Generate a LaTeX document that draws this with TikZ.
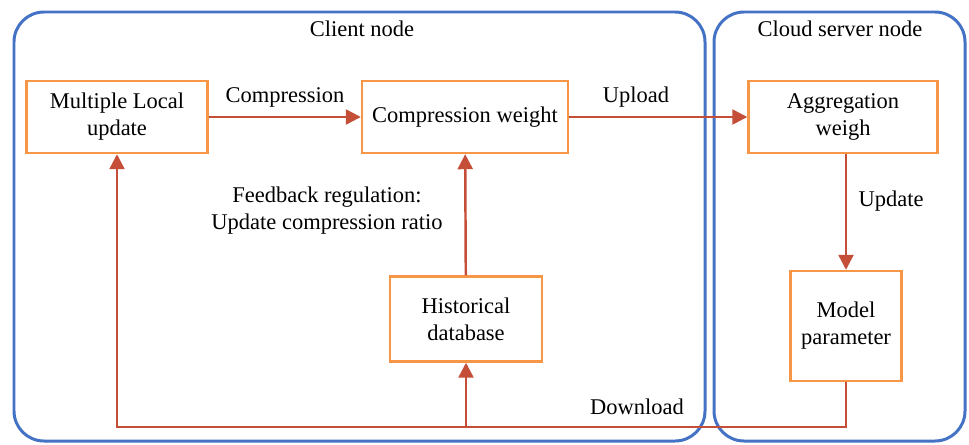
\documentclass[tikz,border=0pt]{standalone}
\usepackage{fontspec}
\setmainfont{Liberation Serif}
\usetikzlibrary{arrows.meta}
\definecolor{frameblue}{RGB}{68,114,196}
\definecolor{boxorange}{RGB}{247,150,70}
\definecolor{linkred}{RGB}{196,78,56}

\begin{document}
\begin{tikzpicture}[x=0.02cm, y=-0.02cm,
  font=\fontsize{12.8}{15.3}\selectfont,
  frame/.style={draw=frameblue, line width=1.7pt, rounded corners=0.6cm},
  stepbox/.style={draw=boxorange, line width=1.4pt, align=center, inner sep=2pt},
  link/.style={draw=linkred, line width=1.4pt, -{Triangle[length=0.3cm, width=0.3cm]}}]
  \useasboundingbox (0,0) rectangle (969,444);
  % the two parties
  \draw[frame] (14,12) rectangle (705,441);
  \draw[frame] (714,12) rectangle (965,441);
  \node (clientlbl) at (362,29) {Client node};
  \node (cloudlbl) at (840,29) {Cloud server node};
  % boxes
  \node[stepbox, minimum width=3.62cm, minimum height=1.44cm] (mlu) at (117,117) {Multiple Local\\update};
  \node[stepbox, minimum width=4.12cm, minimum height=1.44cm] (cw) at (465,117) {Compression weight};
  \node[stepbox, minimum width=3.78cm, minimum height=1.44cm] (agg) at (843,117) {Aggregation\\weigh};
  \node[stepbox, minimum width=3.04cm, minimum height=1.7cm] (hist) at (466,319) {Historical\\database};
  \node[stepbox, minimum width=2.22cm, minimum height=2.2cm] (model) at (846,326) {Model\\parameter};
  % connectors
  \draw[link] (mlu) -- (cw);
  \draw[link] (cw) -- (agg);
  \draw[link] (agg.south -| model.north) -- (model.north);
  \draw[link] (hist) -- (cw);
  \coordinate (bot) at (466,427);
  \draw[link] (model.south) |- (bot) -| (mlu.south);
  \draw[link] (bot) -- (hist.south);
  % labels
  \node (complbl) at (285,97) {Compression};
  \node (uplbl) at (636,97) {Upload};
  \node (updlbl) at (891,201) {Update};
  \node (dllbl) at (637,407) {Download};
  \node[align=center] (fblbl) at (327,211) {Feedback regulation:\\Update compression ratio};
\end{tikzpicture}
\end{document}
